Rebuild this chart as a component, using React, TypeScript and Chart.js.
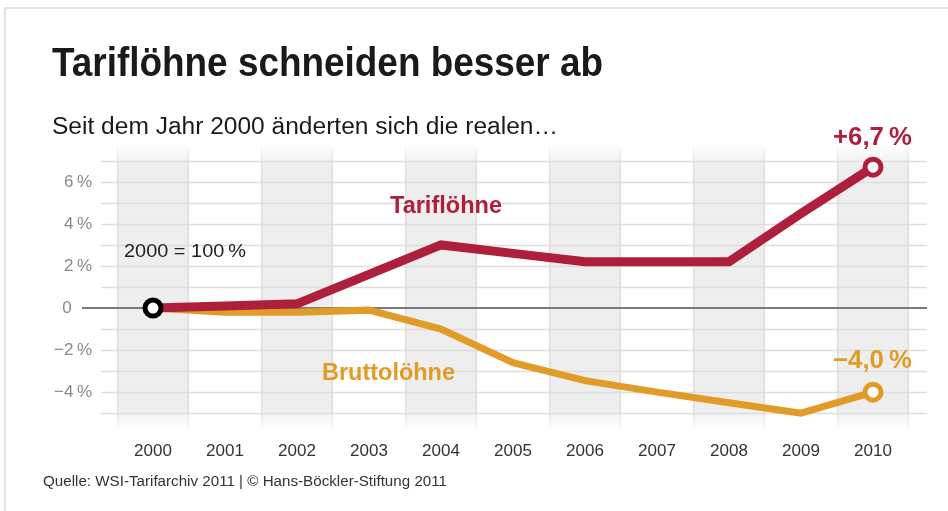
import React, { useEffect, useRef } from "react";
import { Chart, registerables } from "chart.js";

Chart.register(...registerables);

const years = ["2000", "2001", "2002", "2003", "2004", "2005", "2006", "2007", "2008", "2009", "2010"];
const tarifloehne = [0, 0.1, 0.2, 1.6, 3.0, 2.6, 2.2, 2.2, 2.2, 4.5, 6.7];
const bruttoloehne = [0, -0.2, -0.2, -0.1, -1.0, -2.6, -3.45, -4.0, -4.5, -5.0, -4.0];
const yTickValues = [-4, -2, 0, 2, 4, 6];
const yGridValues = [-5, -4, -3, -2, -1, 1, 2, 3, 4, 5, 6, 7];
const yTickLabels = ["\u22124\u2009%", "\u22122\u2009%", "0\u2009\u2003", "2\u2009%", "4\u2009%", "6\u2009%"];

const RED = "#ad1f3b";
const ORANGE = "#e09c26";
const FONT = "'Liberation Sans', Arial, sans-serif";

function fitText(
  ctx: CanvasRenderingContext2D,
  text: string,
  x: number,
  y: number,
  font: string,
  color: string,
  width: number,
  baseline: CanvasTextBaseline = "alphabetic"
) {
  ctx.save();
  ctx.font = font;
  ctx.fillStyle = color;
  ctx.textAlign = "left";
  ctx.textBaseline = baseline;
  const w = ctx.measureText(text).width;
  const s = width / w;
  ctx.translate(x, y);
  ctx.scale(s, 1);
  ctx.fillText(text, 0, 0);
  ctx.restore();
}

const backgroundPlugin = {
  id: "bg",
  beforeDraw(chart: any) {
    const { ctx, chartArea, scales } = chart;
    const x = scales.x;
    const y = scales.y;
    ctx.save();
    ctx.fillStyle = "#ffffff";
    ctx.fillRect(0, 0, chart.width, chart.height);
    ctx.strokeStyle = "#e2e2e2";
    ctx.lineWidth = 2;
    ctx.beginPath();
    ctx.moveTo(5, 511);
    ctx.lineTo(5, 8);
    ctx.lineTo(948, 8);
    ctx.stroke();

    const top = chartArea.top;
    const bottom = chartArea.bottom;
    const half = (x.getPixelForValue(1) - x.getPixelForValue(0)) / 2;
    years.forEach((_, i) => {
      const cx = x.getPixelForValue(i);
      const l = cx - half;
      const r = cx + half;
      if (i % 2 === 0) {
        const g = ctx.createLinearGradient(0, top, 0, bottom);
        g.addColorStop(0, "rgba(238,238,238,0)");
        g.addColorStop(0.08, "rgba(238,238,238,1)");
        g.addColorStop(0.92, "rgba(238,238,238,1)");
        g.addColorStop(1, "rgba(238,238,238,0)");
        ctx.fillStyle = g;
        ctx.fillRect(l, top, r - l, bottom - top);
        const g2 = ctx.createLinearGradient(0, top, 0, bottom);
        g2.addColorStop(0, "rgba(222,222,222,0)");
        g2.addColorStop(0.08, "rgba(222,222,222,1)");
        g2.addColorStop(0.92, "rgba(222,222,222,1)");
        g2.addColorStop(1, "rgba(222,222,222,0)");
        ctx.fillStyle = g2;
        ctx.fillRect(l, top, 1.5, bottom - top);
        ctx.fillRect(r - 1.5, top, 1.5, bottom - top);
      }
    });

    ctx.strokeStyle = "#dddddd";
    ctx.lineWidth = 1.5;
    yGridValues.forEach((v) => {
      const py = Math.round(y.getPixelForValue(v)) + 0.5;
      ctx.beginPath();
      ctx.moveTo(101, py);
      ctx.lineTo(927, py);
      ctx.stroke();
    });
    ctx.strokeStyle = "#7a7a7a";
    ctx.lineWidth = 2;
    const zy = Math.round(y.getPixelForValue(0));
    ctx.beginPath();
    ctx.moveTo(82, zy);
    ctx.lineTo(927, zy);
    ctx.stroke();
    ctx.restore();
  },
  afterDraw(chart: any) {
    const { ctx, scales } = chart;
    const x = scales.x;
    const y = scales.y;
    fitText(ctx, "Tariflöhne schneiden besser ab", 52, 76, `bold 40px ${FONT}`, "#1a1a1a", 551);
    fitText(ctx, "Seit dem Jahr 2000 änderten sich die realen…", 52, 134, `23px ${FONT}`, "#1a1a1a", 506);
    const x10 = x.getPixelForValue(10);
    fitText(ctx, "+6,7\u2009%", x10 - 40, y.getPixelForValue(tarifloehne[10]) - 22, `bold 25px ${FONT}`, RED, 79);
    fitText(ctx, "\u22124,0\u2009%", x10 - 40, y.getPixelForValue(bruttoloehne[10]) - 24, `bold 25px ${FONT}`, ORANGE, 79);
    fitText(ctx, "Tariflöhne", 390, 213, `bold 23px ${FONT}`, RED, 112);
    fitText(ctx, "Bruttolöhne", 322, 380, `bold 23px ${FONT}`, ORANGE, 133);
    fitText(ctx, "2000 = 100\u2009%", 124, 257, `19px ${FONT}`, "#222222", 122);
    fitText(ctx, "Quelle: WSI-Tarifarchiv 2011 | © Hans-Böckler-Stiftung 2011", 43, 486, `14px ${FONT}`, "#333333", 404);
  },
};

export default function App() {
  const ref = useRef<HTMLCanvasElement | null>(null);
  useEffect(() => {
    if (!ref.current) return;
    const last = years.length - 1;
    const radii = (first: number) => years.map((_, i) => (i === 0 ? first : i === last ? 8 : 0));
    const chart = new Chart(ref.current, {
      type: "line",
      data: {
        labels: years,
        datasets: [
          {
            label: "Tariflöhne",
            data: tarifloehne,
            borderColor: RED,
            borderWidth: 9,
            tension: 0,
            borderJoinStyle: "miter",
            pointRadius: radii(8),
            pointBorderWidth: 5,
            pointBackgroundColor: "#ffffff",
            pointBorderColor: years.map((_, i) => (i === 0 ? "#000000" : RED)),
          },
          {
            label: "Bruttolöhne",
            data: bruttoloehne,
            borderColor: ORANGE,
            borderWidth: 7,
            tension: 0,
            borderJoinStyle: "miter",
            pointRadius: radii(0),
            pointBorderWidth: 5,
            pointBackgroundColor: "#ffffff",
            pointBorderColor: ORANGE,
          },
        ],
      },
      options: {
        animation: false,
        responsive: false,
        maintainAspectRatio: false,
        layout: { padding: { top: 144, right: 39, left: 0, bottom: 0 } },
        plugins: { legend: { display: false }, tooltip: { enabled: false } },
        scales: {
          x: {
            type: "category",
            offset: true,
            grid: { display: false, drawTicks: false },
            border: { display: false },
            ticks: { color: "#333333", font: { family: "'Liberation Sans', Arial, sans-serif", size: 17 }, padding: 11 },
            afterFit: (s: any) => {
              s.height = 81;
            },
          },
          y: {
            min: -5.8,
            max: 7.8,
            grid: { display: false, drawTicks: false },
            border: { display: false },
            afterBuildTicks: (s: any) => {
              s.ticks = yTickValues.map((v) => ({ value: v }));
            },
            ticks: {
              color: "#8a8a8a",
              font: { family: "'Liberation Sans', Arial, sans-serif", size: 17 },
              padding: 25,
              callback: (v: any) => {
                const i = yTickValues.indexOf(Number(v));
                return i >= 0 ? yTickLabels[i] : "";
              },
            },
            afterFit: (s: any) => {
              s.width = 117;
            },
          },
        },
      },
      plugins: [backgroundPlugin],
    });
    return () => chart.destroy();
  }, []);
  return (
    <div style={{ position: "fixed", left: 0, top: 0, width: 948, height: 511, background: "#fff" }}>
      <canvas ref={ref} width={948} height={511} style={{ display: "block", width: 948, height: 511 }} />
    </div>
  );
}
